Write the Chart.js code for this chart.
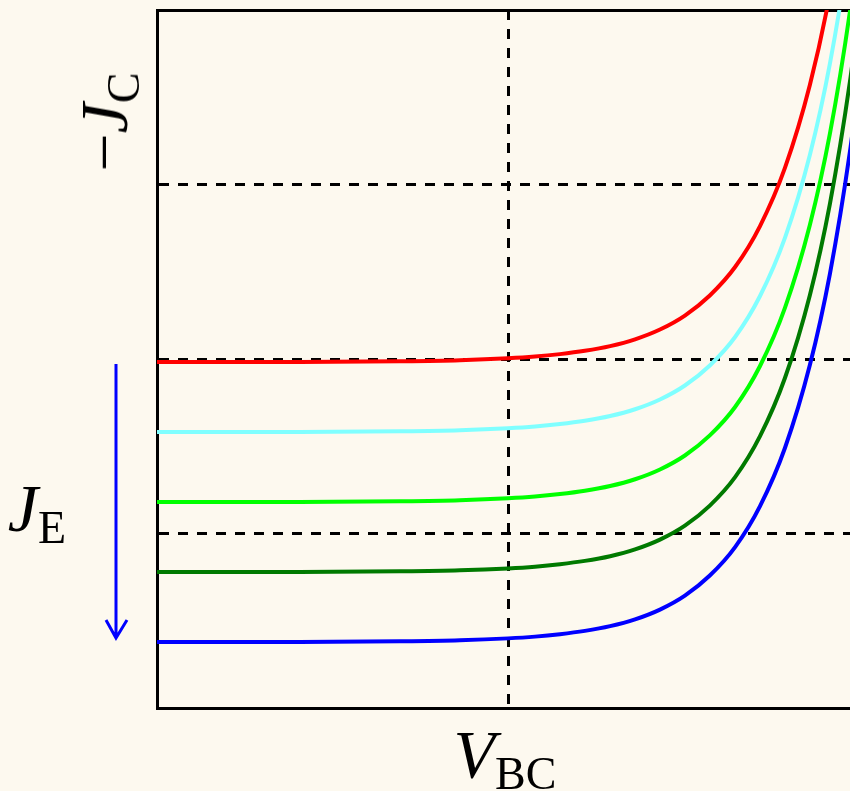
<!DOCTYPE html>
<html>
<head>
    <title>Collector current vs V_BC</title>
    <script src="https://cdn.jsdelivr.net/npm/chart.js@4"></script>
    <style>
        body { margin: 0; background: #fdf9ef; }
        #wrap { position: relative; width: 850px; height: 791px; overflow: hidden; }
        #chart { position: absolute; left: 0; top: 0; }
        .lbl { position: absolute; font-family: "Liberation Serif", "DejaVu Serif", serif; font-size: 68px; color: #000; white-space: nowrap; line-height: 1; }
        .lbl i { font-size: 68px; }
        .lbl span { font-size: 46px; position: relative; top: 12px; }
    </style>
</head>
<body>
    <div id="wrap">
        <canvas id="chart" width="870" height="791"></canvas>
        <div class="lbl" id="jc" style="left:104px; top:122px; transform: translate(-50%, -50%) rotate(-90deg);">&minus;<i>J</i><span>C</span></div>
        <div class="lbl" id="je" style="left:37px; top:508px; transform: translate(-50%, -50%);"><i>J</i><span>E</span></div>
        <div class="lbl" id="vbc" style="left:505px; top:754px; transform: translate(-50%, -50%);"><i>V</i><span>BC</span></div>
    </div>

    <script>
        // V_BC axis spans 0..2 (grid at 1), -J_C axis spans 0..4 (grid at 1, 2, 3)
        const xTicks = [0, 1, 2];
        const yTicks = [0, 1, 2, 3, 4];

        // V_BC sample positions shared by all curves
        const vbc = [0, 0.407, 0.692, 0.863, 1.0, 1.077, 1.148, 1.219, 1.291, 1.362, 1.433, 1.504, 1.575, 1.647, 1.718, 1.789, 1.860, 1.917, 1.974, 2.003];

        // -J_C for each emitter current, highest first
        const jcRed     = [1.983, 1.983, 1.987, 1.993, 2.004, 2.014, 2.028, 2.047, 2.074, 2.113, 2.169, 2.249, 2.364, 2.527, 2.762, 3.095, 3.570, 4.092, 4.791, 5.249];
        const jcCyan    = [1.582, 1.582, 1.586, 1.592, 1.603, 1.613, 1.627, 1.646, 1.673, 1.712, 1.768, 1.848, 1.963, 2.126, 2.361, 2.694, 3.169, 3.691, 4.390, 4.848];
        const jcGreen   = [1.181, 1.181, 1.185, 1.191, 1.202, 1.212, 1.226, 1.245, 1.272, 1.311, 1.367, 1.447, 1.562, 1.725, 1.960, 2.293, 2.768, 3.290, 3.989, 4.447];
        const jcDkGreen = [0.779, 0.779, 0.783, 0.789, 0.800, 0.810, 0.824, 0.843, 0.870, 0.909, 0.965, 1.045, 1.160, 1.323, 1.558, 1.891, 2.366, 2.888, 3.587, 4.045];
        const jcBlue    = [0.378, 0.378, 0.382, 0.388, 0.399, 0.409, 0.423, 0.442, 0.469, 0.508, 0.564, 0.644, 0.759, 0.922, 1.157, 1.490, 1.965, 2.487, 3.186, 3.644];

        function curve(ys, color) {
            return {
                data: vbc.map((x, i) => ({ x: x, y: ys[i] })),
                borderColor: color,
                borderWidth: 4,
                pointRadius: 0,
                fill: false,
                cubicInterpolationMode: 'monotone',
            };
        }

        // blue arrow next to the J_E label
        const arrowPlugin = {
            id: 'arrow',
            afterDraw(chart) {
                const ctx = chart.ctx;
                ctx.save();
                ctx.strokeStyle = '#0000ff';
                ctx.lineWidth = 3;
                ctx.beginPath();
                ctx.moveTo(116, 364);
                ctx.lineTo(116, 638);
                ctx.moveTo(106, 620);
                ctx.lineTo(116, 638);
                ctx.lineTo(127, 620);
                ctx.stroke();
                ctx.restore();
            }
        };

        const gridOpts = {
            color: '#000',
            lineWidth: 3,
            drawTicks: false,
        };

        new Chart(document.getElementById('chart').getContext('2d'), {
            type: 'line',
            data: {
                datasets: [
                    curve(jcRed, '#ff0000'),
                    curve(jcCyan, '#80ffff'),
                    curve(jcGreen, '#00ff00'),
                    curve(jcDkGreen, '#007a00'),
                    curve(jcBlue, '#0000ff'),
                ],
            },
            options: {
                responsive: false,
                animation: false,
                layout: { padding: { left: 157, top: 10, right: 11, bottom: 83 } },
                plugins: { legend: { display: false }, tooltip: { enabled: false } },
                scales: {
                    x: {
                        type: 'linear',
                        min: xTicks[0],
                        max: xTicks[xTicks.length - 1],
                        afterBuildTicks: s => { s.ticks = xTicks.map(v => ({ value: v })); },
                        ticks: { display: false },
                        grid: gridOpts,
                        border: { display: true, color: '#000', width: 3, dash: [10, 9] },
                    },
                    xTop: {
                        type: 'linear',
                        position: 'top',
                        min: xTicks[0],
                        max: xTicks[xTicks.length - 1],
                        ticks: { display: false },
                        grid: { display: false, drawTicks: false },
                        border: { display: true, color: '#000', width: 3 },
                    },
                    y: {
                        type: 'linear',
                        min: yTicks[0],
                        max: yTicks[yTicks.length - 1],
                        afterBuildTicks: s => { s.ticks = yTicks.map(v => ({ value: v })); },
                        ticks: { display: false },
                        grid: gridOpts,
                        border: { display: true, color: '#000', width: 3, dash: [10, 9] },
                    },
                },
            },
            plugins: [arrowPlugin],
        });
    </script>
</body>
</html>
